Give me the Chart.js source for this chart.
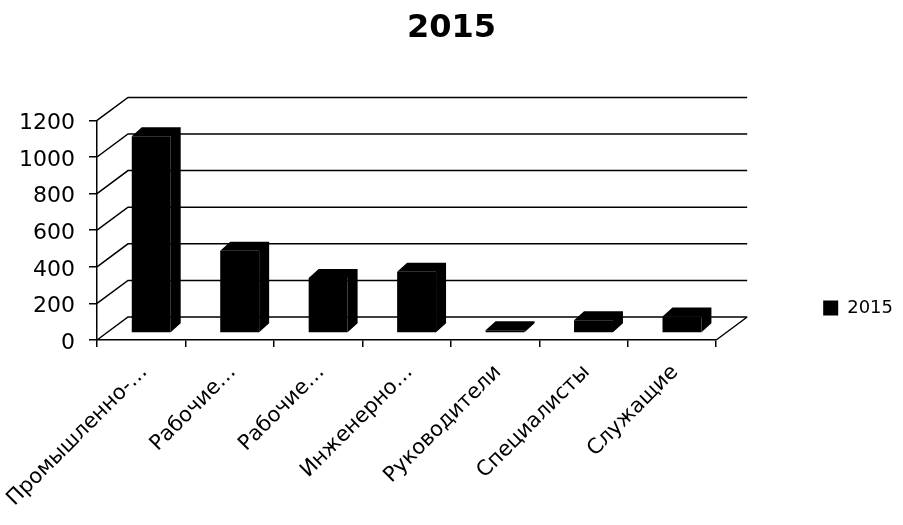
<!DOCTYPE html>
<html>
<head>
<meta charset="utf-8">
<script src="https://cdn.jsdelivr.net/npm/chart.js"></script>
<style>
  html, body { margin: 0; padding: 0; background: #fff; }
  #wrap { width: 903px; height: 525px; }
</style>
</head>
<body>
<div id="wrap"><canvas id="myChart" width="903" height="525"></canvas></div>
<script>

var seriesName = '2015';
var categories = ['Промышленно-…', 'Рабочие…', 'Рабочие…', 'Инженерно…', 'Руководители', 'Специалисты', 'Служащие'];
var amounts = [1075, 450, 300, 335, 15, 70, 90];
var yTicks = [0, 200, 400, 600, 800, 1000, 1200];

var FONT = '"DejaVu Sans", sans-serif';

// depth of the box (side wall / floor) and of the columns inside it
var DEPTH_X = 31, DEPTH_Y = -23;
var FACE_X = 10, FACE_Y = -7;
var TOP_X = 10, TOP_Y = -9;

const box3d = {
    id: 'box3d',
    beforeDraw(chart) {
        // legend sits level with the lower part of the plot
        const lg = chart.legend;
        if (lg) { lg.top = 91; lg.bottom = 525; }
    },
    beforeDatasetsDraw(chart) {
        const ctx = chart.ctx, a = chart.chartArea, y = chart.scales.y;
        ctx.save();
        ctx.strokeStyle = '#000';
        ctx.lineWidth = 1.5;
        ctx.beginPath();
        for (const t of y.ticks) {
            const py = y.getPixelForValue(t.value);
            ctx.moveTo(a.left, py);
            ctx.lineTo(a.left + DEPTH_X, py + DEPTH_Y);
            ctx.lineTo(a.right + DEPTH_X, py + DEPTH_Y);
        }
        // right edge of the floor
        ctx.moveTo(a.right, a.bottom);
        ctx.lineTo(a.right + DEPTH_X, a.bottom + DEPTH_Y);
        ctx.stroke();
        ctx.restore();

        // columns stand a bit behind the front edge
        ctx.save();
        ctx.translate(FACE_X, FACE_Y);
    },
    afterDatasetsDraw(chart) {
        const ctx = chart.ctx;
        ctx.fillStyle = '#000';
        chart.getDatasetMeta(0).data.forEach(function(bar) {
            const l = bar.x - bar.width / 2, r = bar.x + bar.width / 2;
            const t = bar.y, b = bar.base;
            // top + right side of the column
            ctx.beginPath();
            ctx.moveTo(l, t);
            ctx.lineTo(l + TOP_X, t + TOP_Y);
            ctx.lineTo(r + TOP_X, t + TOP_Y);
            ctx.lineTo(r + TOP_X, b + TOP_Y);
            ctx.lineTo(r, b);
            ctx.lineTo(r, t);
            ctx.closePath();
            ctx.fill();
        });
        ctx.restore();
    }
};

const data = {
    labels: categories,
    datasets: [{
        label: seriesName,
        data: amounts,
        backgroundColor: '#000',
        borderWidth: 0,
        categoryPercentage: 1,
        barPercentage: 0.44,
        clip: false
    }]
};

const config = {
    type: 'bar',
    data: data,
    plugins: [box3d],
    options: {
        responsive: false,
        animation: false,
        layout: { padding: 0 },
        plugins: {
            title: {
                display: true,
                text: seriesName,
                color: '#000',
                font: { family: FONT, size: 32, weight: 'bold' },
                padding: { top: 9, bottom: 73 }
            },
            legend: {
                position: 'right',
                align: 'center',
                labels: {
                    color: '#000',
                    font: { family: FONT, size: 18 },
                    boxWidth: 15,
                    boxHeight: 15,
                    padding: 7
                }
            },
            tooltip: { enabled: false }
        },
        scales: {
            x: {
                grid: { drawOnChartArea: false, tickLength: 7, color: '#000', lineWidth: 1.5 },
                border: { display: true, color: '#000', width: 1.5 },
                ticks: {
                    color: '#000',
                    font: { family: FONT, size: 21 },
                    minRotation: 45,
                    maxRotation: 45,
                    autoSkip: false,
                    padding: 13,
                    labelOffset: 3
                },
                afterFit: function(s) {
                    s.height = 185;
                    // long first label may hang past the left edge
                    s.paddingLeft = 0;
                    s.paddingRight = 0;
                }
            },
            y: {
                min: yTicks[0],
                max: yTicks[yTicks.length - 1],
                grid: { drawOnChartArea: false, tickLength: 8, color: '#000', lineWidth: 1.5 },
                border: { display: true, color: '#000', width: 1.5 },
                ticks: {
                    color: '#000',
                    font: { family: FONT, size: 22 },
                    stepSize: 200,
                    padding: 14,
                    labelOffset: 3,
                    callback: function(v) { return String(v); }
                },
                afterFit: function(s) { s.width = 97; }
            },
            // empty axis keeping room for the box depth before the legend
            gap: {
                type: 'linear',
                position: 'right',
                display: true,
                grid: { display: false },
                border: { display: false },
                ticks: { display: false },
                afterFit: function(s) { s.width = 100; }
            }
        }
    }
};

const myChart = new Chart(document.getElementById('myChart'), config);
</script>
</body>
</html>
